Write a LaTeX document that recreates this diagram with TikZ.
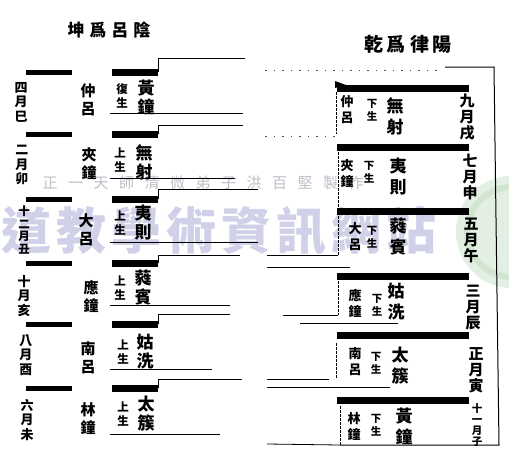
\documentclass[tikz,border=0pt]{standalone}
\usepackage{fontspec}
\newfontfamily\cjk{Noto Sans CJK TC}
\definecolor{wmA}{RGB}{208,208,232}
\definecolor{wmB}{RGB}{190,190,200}
\definecolor{wmG}{RGB}{226,239,226}
\definecolor{wmG2}{RGB}{208,229,208}
\begin{document}
\begin{tikzpicture}[x=1pt,y=-1pt,
  every node/.style={inner sep=0pt,outer sep=0pt},
  barn/.style={fill=black,draw=none,rectangle},
  ln/.style={line width=0.8pt},
  dln/.style={line width=0.9pt,dash pattern=on 3pt off 1pt},
  faint/.style={line width=0.8pt,dash pattern=on 1.5pt off 7pt,black!70},
  ttl/.style={font=\cjk\bfseries\fontsize{17}{17}\selectfont},
  mon/.style={align=center,font=\cjk\bfseries\fontsize{13}{14.5}\selectfont},
  monf/.style={align=center,font=\cjk\bfseries\fontsize{11.5}{12.5}\selectfont},
  nam/.style={align=center,font=\cjk\bfseries\fontsize{15}{18}\selectfont},
  shg/.style={align=center,font=\cjk\bfseries\fontsize{11.5}{14}\selectfont},
  tgt/.style={align=center,font=\cjk\bfseries\fontsize{17}{19}\selectfont},
  rnam/.style={align=center,font=\cjk\bfseries\fontsize{13}{16}\selectfont},
  rshg/.style={align=center,font=\cjk\bfseries\fontsize{10.5}{13}\selectfont},
  rtgt/.style={align=center,font=\cjk\bfseries\fontsize{17}{21}\selectfont},
  rmon/.style={align=center,font=\cjk\bfseries\fontsize{15}{16}\selectfont},
  rmonf/.style={align=center,font=\cjk\bfseries\fontsize{10.5}{11}\selectfont},
  wmbig/.style={font=\cjk\bfseries\fontsize{50}{50}\selectfont,text=wmA},
  wmsmall/.style={font=\cjk\fontsize{15}{15}\selectfont,text=wmB}
]
\useasboundingbox[fill=white] (0,0) rectangle (509,461);

% ---- watermark (faint, underneath) ----
\begin{scope}
  \clip (0,0) rectangle (509,461);
  \fill[wmG] (512,232) circle (56);
  \draw[wmG2,line width=6pt] (512,232) circle (45);
\end{scope}
\node[wmbig] (wm1) at (219,231) {道\kern5pt教\kern5pt學\kern5pt術\kern5pt資\kern5pt訊\kern5pt網\kern5pt站};
\node[wmsmall] (wm2) at (203,183) {正\kern10.5pt一\kern10.5pt天\kern10.5pt師\kern10.5pt清\kern10.5pt微\kern10.5pt弟\kern10.5pt子\kern10.5pt洪\kern10.5pt百\kern10.5pt堅\kern10.5pt製\kern10.5pt作};

% ---- titles ----
\node[ttl] (tl) at (109,30) {坤\kern5pt爲\kern5pt呂\kern5pt陰};
\node[ttl,font=\cjk\bfseries\fontsize{19}{19}\selectfont] (tr) at (408,44) {乾\kern4pt爲\kern4pt律\kern4pt陽};

% ---- left: kun, six broken lines with brackets ----
\foreach \i/\y/\s/\e/\u/\f in {1/72/58/245/113/243, 2/134/125/243/178/235, 3/199/189/258/242/258, 4/263/255/240/305/230, 5/324/314/230/369/212, 6/388/379/242/434/220}{
  \node[barn,minimum width=46pt,minimum height=5pt] (LA\i) at (49,\y) {};
  \node[barn,minimum width=46pt,minimum height=7pt] (LB\i) at (135,\y) {};
  \coordinate (LE\i) at (\e,\s);
  \coordinate (LU\i) at (110,\u);
  \coordinate (LV\i) at (\f,\u);
  \draw[ln] (LB\i.east) |- (LE\i);
  \draw[ln] (LU\i) -- (LV\i);
}

% left texts
\node[mon]  (m1) at (21,102) {四\\月\\巳};
\node[mon]  (m2) at (22,165) {二\\月\\卯};
\node[monf] (m3) at (24,230) {十\\二\\月\\丑};
\node[mon]  (m4) at (24,296) {十\\月\\亥};
\node[mon]  (m5) at (26,355) {八\\月\\酉};
\node[mon]  (m6) at (27,420) {六\\月\\未};

\node[nam] (n1) at (88,100) {仲\\呂};
\node[nam] (n2) at (89,164) {夾\\鐘};
\node[nam] (n3) at (86,230) {大\\呂};
\node[nam] (n4) at (91,297) {應\\鐘};
\node[nam] (n5) at (88,358) {南\\呂};
\node[nam] (n6) at (88,419) {林\\鐘};

\node[shg] (s1) at (122,96)  {復\\生};
\node[shg] (s2) at (120,160) {上\\生};
\node[shg] (s3) at (120,223) {上\\生};
\node[shg] (s4) at (120,288) {上\\生};
\node[shg] (s5) at (123,352) {上\\生};
\node[shg] (s6) at (123,414) {上\\生};

\node[tgt] (t1) at (146,97)  {黃\\鐘};
\node[tgt] (t2) at (144,162) {無\\射};
\node[tgt] (t3) at (143,223) {夷\\則};
\node[tgt] (t4) at (143,288) {蕤\\賓};
\node[tgt] (t5) at (145,352) {姑\\洗};
\node[tgt] (t6) at (146,414) {太\\簇};

% ---- right: qian, six solid lines ----
\foreach \i/\y in {1/88,2/147,3/211,4/276,5/335,6/400}{
  \node[barn,minimum width=132pt,minimum height=7pt] (RB\i) at (403,\y) {};
}
\fill (335,81) -- (346,85) -- (335,88) -- cycle;

% right frame
\coordinate (F1) at (445,67);
\coordinate (F2) at (494,67);
\coordinate (F3) at (499,445);
\coordinate (F4) at (340,445);
\draw[line width=1pt] (F1) -- (F2) -- (F3) -- (F4);
\coordinate (D1) at (265,70);
\coordinate (D2) at (443,70);
\draw[faint] (D1) -- (D2);
\coordinate (D3) at (265,136);
\coordinate (D4) at (336,136);
\draw[faint] (D3) -- (D4);

% right cell left edges and connector lines
\coordinate (V1a) at (336,92);  \coordinate (V1b) at (336,134);
\draw[dln] (V1a) -- (V1b);
\coordinate (V2a) at (338,152); \coordinate (V2b) at (338,255);
\coordinate (H2)  at (267,255);
\draw[dln] (V2a) -- (V2b);
\draw[ln] (V2b) -- (H2);
\coordinate (U3a) at (267,267); \coordinate (U3b) at (350,267);
\draw[ln] (U3a) -- (U3b);
\coordinate (V4a) at (338,281); \coordinate (V4b) at (338,315);
\coordinate (H4)  at (283,315);
\draw[dln] (V4a) -- (V4b);
\draw[ln] (V4b) -- (H4);
\coordinate (U4a) at (300,323); \coordinate (U4b) at (398,323);
\draw[ln] (U4a) -- (U4b);
\coordinate (V5a) at (336,343); \coordinate (V5b) at (336,378);
\coordinate (H5a) at (267,379); \coordinate (H5b) at (329,379);
\draw[dln] (V5a) -- (V5b);
\draw[ln] (H5a) -- (H5b);
\coordinate (U5a) at (267,387); \coordinate (U5b) at (390,387);
\draw[ln] (U5a) -- (U5b);
\coordinate (V6a) at (340,406);
\coordinate (H6)  at (267,444);
\draw[dln] (V6a) -- (F4);
\draw[ln] (F4) -- (H6);

% right texts
\node[rnam] (rn1) at (347,110) {仲\\呂};
\node[rnam] (rn2) at (347,173) {夾\\鐘};
\node[rnam] (rn3) at (355,237) {大\\呂};
\node[rnam] (rn4) at (355,303) {應\\鐘};
\node[rnam] (rn5) at (355,362) {南\\呂};
\node[rnam] (rn6) at (354,426) {林\\鐘};

\node[rshg] (rs1) at (372,110) {下\\生};
\node[rshg] (rs2) at (369,172) {下\\生};
\node[rshg] (rs3) at (372,237) {下\\生};
\node[rshg] (rs4) at (377,305) {下\\生};
\node[rshg] (rs5) at (376,363) {下\\生};
\node[rshg] (rs6) at (376,425) {下\\生};

\node[rtgt] (rt1) at (395,116) {無\\射};
\node[rtgt] (rt2) at (398,177) {夷\\則};
\node[rtgt] (rt3) at (398,237) {蕤\\賓};
\node[rtgt] (rt4) at (396,302) {姑\\洗};
\node[rtgt] (rt5) at (400,366) {太\\簇};
\node[rtgt] (rt6) at (404,426) {黃\\鐘};

\node[rmon]  (rm1) at (467,117) {九\\月\\戌};
\node[rmon]  (rm2) at (470,177) {七\\月\\申};
\node[rmon]  (rm3) at (471,240) {五\\月\\午};
\node[rmon]  (rm4) at (473,308) {三\\月\\辰};
\node[rmon]  (rm5) at (476,370) {正\\月\\寅};
\node[rmonf] (rm6) at (477,425) {十\\一\\月\\子};
\end{tikzpicture}
\end{document}
